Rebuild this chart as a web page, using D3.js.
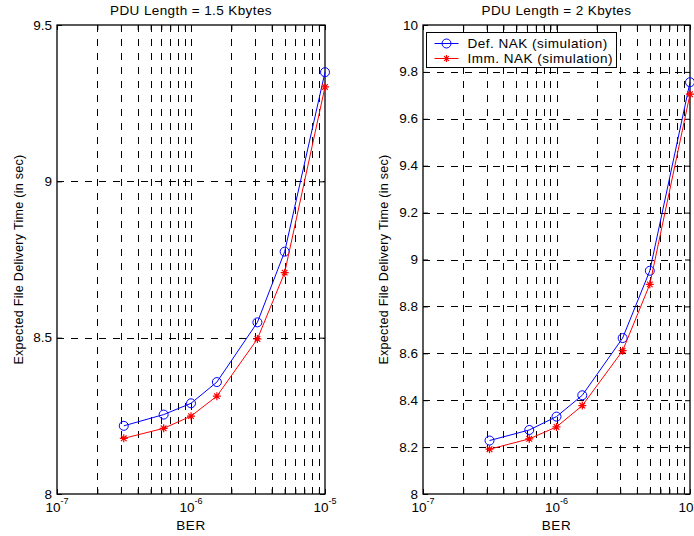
<!DOCTYPE html>
<html>
<head>
<meta charset="utf-8">
<script src="https://cdn.jsdelivr.net/npm/d3@7"></script>
<style>
  body { margin: 0; background: #fff; }
  svg { display: block; font-family: Arial, "Liberation Sans", Helvetica, sans-serif; }
</style>
</head>
<body>
<div id="chart"></div>
<script>
// BER values of the simulation points
const ber = [3.15e-7, 6.25e-7, 1e-6, 1.56e-6, 3.13e-6, 5e-6, 1e-5];

// PDU length = 1.5 Kbytes
const defNak15 = [8.218, 8.254, 8.290, 8.358, 8.549, 8.775, 9.349];
const immNak15 = [8.178, 8.210, 8.249, 8.313, 8.496, 8.708, 9.302];

// PDU length = 2 Kbytes
const defNak2 = [8.228, 8.273, 8.330, 8.421, 8.665, 8.952, 9.756];
const immNak2 = [8.191, 8.235, 8.286, 8.377, 8.611, 8.894, 9.705];

const yTicks15 = [8, 8.5, 9, 9.5];
const yTicks2 = [8, 8.2, 8.4, 8.6, 8.8, 9, 9.2, 9.4, 9.6, 9.8, 10];
const xMajor = [1e-7, 1e-6, 1e-5];
const xExp = ["-7", "-6", "-5"];

const seriesNames = ["Def. NAK (simulation)", "Imm. NAK (simulation)"];
const seriesColors = ["#0000ff", "#ff0000"];

const width = 694, height = 536;
const plotTop = 25, plotBottom = 494;

const svg = d3.select("#chart").append("svg")
  .attr("width", width).attr("height", height)
  .attr("viewBox", [0, 0, width, height]);

function starPath(s) {
  // asterisk marker: 4 strokes through the centre
  const d = s * 0.7;
  return `M${-s},0L${s},0M0,${-s}L0,${s}M${-d},${-d}L${d},${d}M${-d},${d}L${d},${-d}`;
}

function drawPanel(o) {
  const x = d3.scaleLog().domain([1e-7, 1e-5]).range([o.left, o.right]);
  const y = d3.scaleLinear().domain([o.yTicks[0], o.yTicks[o.yTicks.length - 1]]).range([plotBottom, plotTop]);
  const g = svg.append("g");
  const minor = x.ticks().filter(v => v > 1.01e-7 && v < 0.99e-5);
  const dash = "7,7";

  // grid
  g.append("g").selectAll("line").data(minor).join("line")
    .attr("x1", d => Math.round(x(d)) + 0.5).attr("x2", d => Math.round(x(d)) + 0.5)
    .attr("y1", plotTop).attr("y2", plotBottom)
    .attr("stroke", "#000").attr("stroke-width", 1).attr("stroke-dasharray", dash);
  g.append("g").selectAll("line").data(o.yTicks.slice(1, -1)).join("line")
    .attr("x1", o.left).attr("x2", o.right)
    .attr("y1", d => Math.round(y(d)) + 0.5).attr("y2", d => Math.round(y(d)) + 0.5)
    .attr("stroke", "#000").attr("stroke-width", 1).attr("stroke-dasharray", dash);

  // inward ticks on all four sides
  const tickLen = 5;
  const allX = x.ticks();
  g.append("g").attr("transform", `translate(0,${plotBottom})`)
    .call(d3.axisBottom(x).tickValues(allX).tickSize(-tickLen).tickFormat(""))
    .call(a => a.select(".domain").remove());
  g.append("g").attr("transform", `translate(0,${plotTop})`)
    .call(d3.axisTop(x).tickValues(allX).tickSize(-tickLen).tickFormat(""))
    .call(a => a.select(".domain").remove());
  g.append("g").attr("transform", `translate(${o.left},0)`)
    .call(d3.axisLeft(y).tickValues(o.yTicks).tickSize(-tickLen).tickFormat(""))
    .call(a => a.select(".domain").remove());
  g.append("g").attr("transform", `translate(${o.right},0)`)
    .call(d3.axisRight(y).tickValues(o.yTicks).tickSize(-tickLen).tickFormat(""))
    .call(a => a.select(".domain").remove());

  // frame
  g.append("rect")
    .attr("x", o.left).attr("y", plotTop)
    .attr("width", o.right - o.left).attr("height", plotBottom - plotTop)
    .attr("fill", "none").attr("stroke", "#000").attr("stroke-width", 1.3);

  // y tick labels
  g.append("g").selectAll("text").data(o.yTicks).join("text")
    .attr("x", o.left - 5).attr("y", d => y(d) + 4.5)
    .attr("text-anchor", "end").attr("font-size", 13.5)
    .text(d => d3.format("~g")(d));

  // x tick labels 10^n
  const xl = g.append("g").selectAll("text").data(xMajor).join("text")
    .attr("x", d => x(d)).attr("y", 512)
    .attr("text-anchor", "middle").attr("font-size", 13.5);
  xl.append("tspan").text("10");
  xl.append("tspan").attr("font-size", 9).attr("dy", -8).text((d, i) => xExp[i]);

  // titles
  g.append("text").attr("x", x(1e-6)).attr("y", 15)
    .attr("text-anchor", "middle").attr("font-size", 13.5)
    .attr("letter-spacing", 0.4).text(o.title);
  g.append("text").attr("x", x(1e-6)).attr("y", 530)
    .attr("text-anchor", "middle").attr("font-size", 13.5)
    .attr("letter-spacing", 0.6).text("BER");
  g.append("text")
    .attr("transform", `translate(${o.ylabX},${(plotTop + plotBottom) / 2}) rotate(-90)`)
    .attr("text-anchor", "middle").attr("font-size", 12.5).attr("letter-spacing", 0.3)
    .text("Expected File Delivery Time (in sec)");

  // series
  const line = d3.line().x((d, i) => x(ber[i])).y(d => y(d));
  o.series.forEach((vals, k) => {
    const c = seriesColors[k];
    g.append("path").datum(vals).attr("d", line)
      .attr("fill", "none").attr("stroke", c).attr("stroke-width", 1);
    if (k === 0) {
      g.append("g").selectAll("circle").data(vals).join("circle")
        .attr("cx", (d, i) => x(ber[i])).attr("cy", d => y(d)).attr("r", 4.5)
        .attr("fill", "none").attr("stroke", c).attr("stroke-width", 1);
    } else {
      g.append("g").selectAll("path").data(vals).join("path")
        .attr("transform", (d, i) => `translate(${x(ber[i])},${y(d)})`)
        .attr("d", starPath(4))
        .attr("fill", "none").attr("stroke", c).attr("stroke-width", 1.2);
    }
  });

  if (o.legend) {
    const lg = g.append("g").attr("transform", "translate(426.5,32.5)");
    lg.append("rect").attr("width", 190).attr("height", 35)
      .attr("fill", "#fff").attr("stroke", "#000").attr("stroke-width", 1);
    seriesNames.forEach((name, k) => {
      const yy = 11 + k * 15;
      lg.append("line").attr("x1", 8).attr("x2", 32).attr("y1", yy).attr("y2", yy)
        .attr("stroke", seriesColors[k]).attr("stroke-width", 1);
      if (k === 0) {
        lg.append("circle").attr("cx", 20).attr("cy", yy).attr("r", 4.5)
          .attr("fill", "none").attr("stroke", seriesColors[k]);
      } else {
        lg.append("path").attr("transform", `translate(20,${yy})`).attr("d", starPath(3.5))
          .attr("fill", "none").attr("stroke", seriesColors[k]).attr("stroke-width", 1.2);
      }
      lg.append("text").attr("x", 41).attr("y", yy + 4.5).attr("font-size", 13.5)
        .attr("letter-spacing", 0.5).text(name);
    });
  }
}

drawPanel({
  left: 57, right: 325, yTicks: yTicks15, title: "PDU Length = 1.5 Kbytes",
  ylabX: 23, series: [defNak15, immNak15], legend: false
});
drawPanel({
  left: 423, right: 690, yTicks: yTicks2, title: "PDU Length = 2 Kbytes",
  ylabX: 388, series: [defNak2, immNak2], legend: true
});
</script>
</body>
</html>
